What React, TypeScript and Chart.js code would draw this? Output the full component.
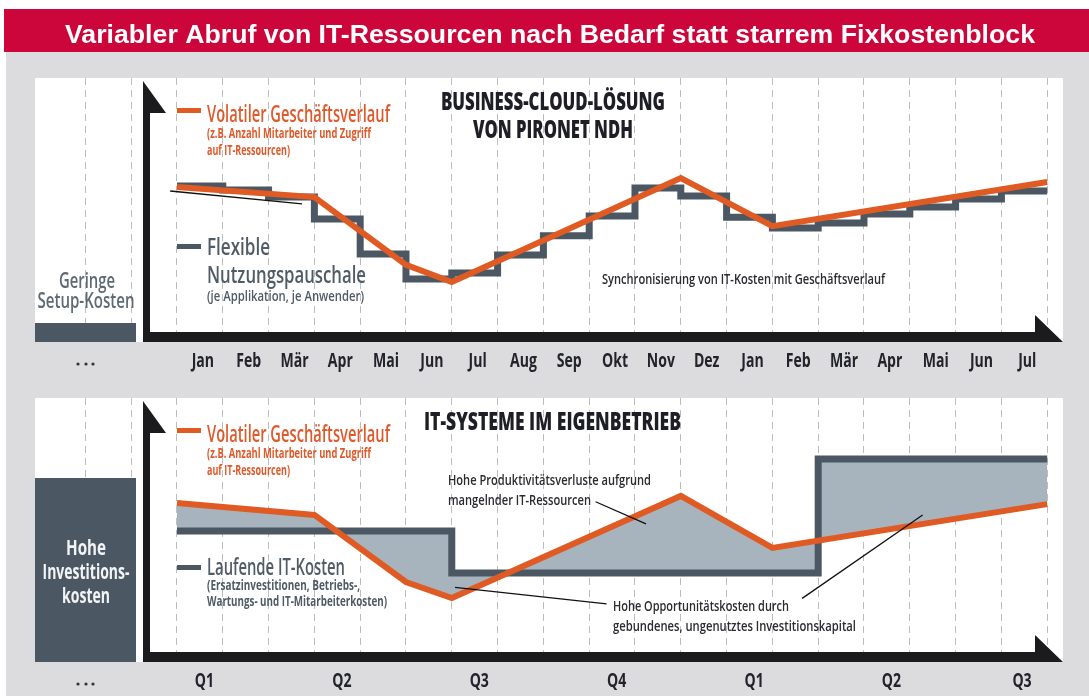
import React, { useEffect, useRef } from 'react';
import { Chart, registerables } from 'chart.js';

Chart.register(...registerables);

const W = 1089;
const H = 696;

// ---------------- data ----------------
const titleText = 'Variabler Abruf von IT-Ressourcen nach Bedarf statt starrem Fixkostenblock';
const monthLabels = ['Jan', 'Feb', 'Mär', 'Apr', 'Mai', 'Jun', 'Jul', 'Aug', 'Sep', 'Okt', 'Nov', 'Dez', 'Jan', 'Feb', 'Mär', 'Apr', 'Mai', 'Jun', 'Jul'];
const quarterLabels = ['Q1', 'Q2', 'Q3', 'Q4', 'Q1', 'Q2', 'Q3'];
const quarterStartMonth = [0, 3, 6, 9, 12, 15, 18];
const gridTicks = [-2, -1, 0, 1, 2, 3, 4, 5, 6, 7, 8, 9, 10, 11, 12, 13, 14, 15, 16, 17, 18, 19];

// Panel 1: Business-Cloud-Lösung
const cloudDemandMonth = [0, 3, 5, 6, 11, 13, 19];
const cloudDemand = [58.7, 54.9, 29.2, 22.7, 62.1, 43.9, 60.6];
const cloudFee = [59.1, 57.6, 54.9, 46.6, 33.3, 23.9, 26.1, 33.0, 40.2, 47.7, 58.3, 55.3, 47.3, 43.2, 45.1, 48.5, 51.1, 54.2, 57.2];
const cloudPointerX = [-0.15, 2.73];
const cloudPointerY = [57.2, 52.3];

// Panel 2: IT-Systeme im Eigenbetrieb
const ownDemandMonth = [0, 3, 5, 6, 11, 13, 19];
const ownDemand = [60.2, 55.7, 30.3, 24.2, 62.9, 43.2, 59.8];
const ownCost = [49.6, 49.6, 49.6, 49.6, 49.6, 49.6, 33.7, 33.7, 33.7, 33.7, 33.7, 33.7, 33.7, 33.7, 76.9, 76.9, 76.9, 76.9, 76.9];
const pointerLossX = [9.14, 10.24];
const pointerLossY = [60.7, 52.3];
const pointerOppAX = [6.07, 9.38];
const pointerOppAY = [28.3, 22.0];
const pointerOppBX = [13.65, 16.28];
const pointerOppBY = [24.1, 55.7];

// ---------------- styles ----------------
const ORANGE = '#e05a24';
const ORANGE_TXT = '#e0592a';
const SLATE = '#4b5762';
const SLATE_TXT = '#4f5b66';
const FILL = '#a8b4bd';
const PAGE = '#dcdcdf';
const RED = '#cc063a';
const INK = '#1e1e26';
const FONT = "'Open Sans', 'Noto Sans', sans-serif";

type TextOpt = {
  size: number;
  weight?: string | number;
  color: string;
  align?: 'left' | 'center';
  width?: number;
  sx?: number;
  family?: string;
};

function drawText(ctx: CanvasRenderingContext2D, s: string, x: number, y: number, o: TextOpt) {
  ctx.save();
  ctx.font = `${o.weight ?? 600} ${o.size}px ${o.family ?? FONT}`;
  ctx.fillStyle = o.color;
  ctx.textAlign = 'left';
  ctx.textBaseline = 'alphabetic';
  const w = ctx.measureText(s).width;
  const k = o.width ? o.width / w : o.sx ?? 0.8;
  const x0 = o.align === 'center' ? x - (w * k) / 2 : x;
  ctx.translate(x0, y);
  ctx.scale(k, 1);
  ctx.fillText(s, 0, 0);
  ctx.restore();
}

function drawAxes(ctx: CanvasRenderingContext2D, left: number, right: number, top: number, bottom: number) {
  ctx.save();
  ctx.fillStyle = '#1b1b1d';
  ctx.beginPath();
  ctx.moveTo(left, top + 3);
  ctx.lineTo(left + 23, top + 35);
  ctx.lineTo(left + 7, top + 35);
  ctx.lineTo(left + 7, bottom - 10);
  ctx.lineTo(right - 28, bottom - 10);
  ctx.lineTo(right - 28, bottom - 27);
  ctx.lineTo(right, bottom);
  ctx.lineTo(left, bottom);
  ctx.closePath();
  ctx.fill();
  ctx.restore();
}

function drawLegend(ctx: CanvasRenderingContext2D, dy: number) {
  ctx.fillStyle = ORANGE;
  ctx.fillRect(177, 108 + dy, 24, 5);
  drawText(ctx, 'Volatiler Geschäftsverlauf', 207, 122 + dy, { size: 23, weight: 600, color: ORANGE_TXT, width: 183 });
  drawText(ctx, '(z.B. Anzahl Mitarbeiter und Zugriff', 207, 138 + dy, { size: 14, weight: 700, color: ORANGE_TXT, width: 164 });
  drawText(ctx, 'auf IT-Ressourcen)', 207, 155 + dy, { size: 14, weight: 700, color: ORANGE_TXT, width: 83 });
}

function drawDots(ctx: CanvasRenderingContext2D, y: number) {
  ctx.save();
  ctx.fillStyle = '#333';
  [78, 86, 93].forEach((x) => {
    ctx.beginPath();
    ctx.arc(x, y, 1.6, 0, Math.PI * 2);
    ctx.fill();
  });
  ctx.restore();
}

const pts = (xs: number[], ys: number[]) => xs.map((x, i) => ({ x, y: ys[i] }));
const stepPts = (levels: number[]) => [
  ...levels.map((y, i) => ({ x: i, y })),
  { x: levels.length, y: levels[levels.length - 1] },
];

function baseOptions(top: number, bottom: number): any {
  return {
    responsive: false,
    animation: false,
    events: [],
    layout: { padding: { left: 35, right: W - 1063, top, bottom: H - bottom } },
    plugins: {
      legend: { display: false },
      tooltip: { enabled: false },
      filler: { drawTime: 'beforeDatasetsDraw' },
    },
    elements: { point: { radius: 0 }, line: { tension: 0 } },
    scales: {
      x: {
        type: 'linear',
        min: -3.1,
        max: 19.345,
        afterBuildTicks: (s: any) => {
          s.ticks = gridTicks.map((v) => ({ value: v }));
        },
        ticks: { display: false },
        grid: { color: '#bdbdbd', lineWidth: 1, drawTicks: false },
        border: { display: false, dash: [7, 5] },
      },
      y: { type: 'linear', min: 0, max: 100, display: false },
    },
  };
}

const lineDefaults = { pointRadius: 0, borderJoinStyle: 'miter', borderCapStyle: 'butt' };

export default function App() {
  const c1 = useRef<HTMLCanvasElement>(null);
  const c2 = useRef<HTMLCanvasElement>(null);

  useEffect(() => {
    const deco1 = {
      id: 'deco1',
      beforeDraw(chart: any) {
        const ctx: CanvasRenderingContext2D = chart.ctx;
        ctx.save();
        ctx.fillStyle = '#ffffff';
        ctx.fillRect(0, 0, W, H);
        ctx.fillStyle = PAGE;
        ctx.fillRect(6, 52, W - 6, H - 52);
        ctx.fillStyle = RED;
        ctx.fillRect(4, 9, W - 4, 43);
        ctx.restore();
        drawText(ctx, titleText, 65, 43, { size: 25, weight: 700, color: '#ffffff', width: 970, family: "'Liberation Sans', Arial, sans-serif" });
        const a = chart.chartArea;
        ctx.fillStyle = '#ffffff';
        ctx.fillRect(a.left, a.top, a.right - a.left, a.bottom - a.top);
      },
      afterDraw(chart: any) {
        const ctx: CanvasRenderingContext2D = chart.ctx;
        const a = chart.chartArea;
        const xs = chart.scales.x;
        ctx.fillStyle = SLATE;
        ctx.fillRect(a.left, 323, 101, a.bottom - 323);
        drawAxes(ctx, 143, a.right, a.top, a.bottom);
        drawText(ctx, 'Geringe', 87, 288, { size: 21, weight: 600, color: '#5f6b74', align: 'center', width: 56 });
        drawText(ctx, 'Setup-Kosten', 86, 308, { size: 21, weight: 600, color: '#5f6b74', align: 'center', width: 97 });
        drawText(ctx, 'BUSINESS-CLOUD-LÖSUNG', 441, 110, { size: 24, weight: 800, color: INK, width: 224 });
        drawText(ctx, 'VON PIRONET NDH', 473, 138, { size: 24, weight: 800, color: INK, width: 160 });
        drawLegend(ctx, 0);
        ctx.fillStyle = SLATE;
        ctx.fillRect(177, 244, 24, 5);
        drawText(ctx, 'Flexible', 207, 255, { size: 23, weight: 600, color: SLATE_TXT, width: 63 });
        drawText(ctx, 'Nutzungspauschale', 207, 283, { size: 23, weight: 600, color: SLATE_TXT, width: 159 });
        drawText(ctx, '(je Applikation, je Anwender)', 207, 301, { size: 15, weight: 600, color: SLATE_TXT, width: 157 });
        drawText(ctx, 'Synchronisierung von IT-Kosten mit Geschäftsverlauf', 602, 284, { size: 15, weight: 600, color: '#2a2a30', width: 283 });
        monthLabels.forEach((m, i) => {
          drawText(ctx, m, xs.getPixelForValue(i + 0.5) + 3, 367, { size: 19, weight: 700, color: '#23232b', align: 'center', sx: 0.74 });
        });
        drawDots(ctx, 364);
      },
    };

    const deco2 = {
      id: 'deco2',
      beforeDraw(chart: any) {
        const ctx: CanvasRenderingContext2D = chart.ctx;
        const a = chart.chartArea;
        ctx.fillStyle = '#ffffff';
        ctx.fillRect(a.left, a.top, a.right - a.left, a.bottom - a.top);
      },
      afterDraw(chart: any) {
        const ctx: CanvasRenderingContext2D = chart.ctx;
        const a = chart.chartArea;
        const xs = chart.scales.x;
        ctx.fillStyle = SLATE;
        ctx.fillRect(a.left, 478, 101, a.bottom - 478);
        drawAxes(ctx, 143, a.right, a.top, a.bottom);
        drawText(ctx, 'Hohe', 86, 555, { size: 21, weight: 700, color: '#f2f4f6', align: 'center', width: 40 });
        drawText(ctx, 'Investitions-', 86, 579, { size: 21, weight: 700, color: '#f2f4f6', align: 'center', width: 87 });
        drawText(ctx, 'kosten', 86, 603, { size: 21, weight: 700, color: '#f2f4f6', align: 'center', width: 48 });
        drawText(ctx, 'IT-SYSTEME IM EIGENBETRIEB', 424, 430, { size: 24, weight: 800, color: INK, width: 257 });
        drawLegend(ctx, 320);
        ctx.fillStyle = SLATE;
        ctx.fillRect(177, 565, 24, 5);
        drawText(ctx, 'Laufende IT-Kosten', 207, 575, { size: 23, weight: 600, color: SLATE_TXT, width: 138 });
        drawText(ctx, '(Ersatzinvestitionen, Betriebs-,', 207, 590, { size: 14, weight: 700, color: SLATE_TXT, width: 153 });
        drawText(ctx, 'Wartungs- und IT-Mitarbeiterkosten)', 207, 606, { size: 14, weight: 700, color: SLATE_TXT, width: 180 });
        drawText(ctx, 'Hohe Produktivitätsverluste aufgrund', 448, 485, { size: 15, weight: 600, color: '#2a2a30', width: 203 });
        drawText(ctx, 'mangelnder IT-Ressourcen', 448, 505, { size: 15, weight: 600, color: '#2a2a30', width: 143 });
        drawText(ctx, 'Hohe Opportunitätskosten durch', 613, 611, { size: 15, weight: 600, color: '#2a2a30', width: 176 });
        drawText(ctx, 'gebundenes, ungenutztes Investitionskapital', 613, 631, { size: 15, weight: 600, color: '#2a2a30', width: 243 });
        quarterLabels.forEach((q, i) => {
          const v = Math.min(quarterStartMonth[i] + 0.6, 18.45);
          drawText(ctx, q, xs.getPixelForValue(v), 687, { size: 19, weight: 700, color: '#23232b', align: 'center', sx: 0.74 });
        });
        drawDots(ctx, 684);
      },
    };

    const ch1 = new Chart(c1.current as HTMLCanvasElement, {
      type: 'line',
      data: {
        datasets: [
          { label: 'Flexible Nutzungspauschale', data: stepPts(cloudFee), stepped: 'before', borderColor: SLATE, borderWidth: 7, fill: false, order: 3, ...lineDefaults } as any,
          { label: 'Volatiler Geschäftsverlauf', data: pts(cloudDemandMonth, cloudDemand), borderColor: ORANGE, borderWidth: 6, fill: false, order: 2, ...lineDefaults } as any,
          { label: 'pointer', data: pts(cloudPointerX, cloudPointerY), borderColor: '#111111', borderWidth: 1.3, fill: false, order: 1, pointRadius: 0 } as any,
        ],
      },
      options: baseOptions(78, 342),
      plugins: [deco1],
    });

    const ch2 = new Chart(c2.current as HTMLCanvasElement, {
      type: 'line',
      data: {
        datasets: [
          { label: 'Laufende IT-Kosten', data: stepPts(ownCost), stepped: 'before', borderColor: SLATE, borderWidth: 7, fill: false, order: 3, ...lineDefaults } as any,
          { label: 'Volatiler Geschäftsverlauf', data: pts(ownDemandMonth, ownDemand), borderColor: ORANGE, backgroundColor: FILL, borderWidth: 6, fill: { target: 0 }, order: 2, ...lineDefaults } as any,
          { label: 'pointer1', data: pts(pointerLossX, pointerLossY), borderColor: '#111111', borderWidth: 1.3, fill: false, order: 1, pointRadius: 0 } as any,
          { label: 'pointer2', data: pts(pointerOppAX, pointerOppAY), borderColor: '#111111', borderWidth: 1.3, fill: false, order: 1, pointRadius: 0 } as any,
          { label: 'pointer3', data: pts(pointerOppBX, pointerOppBY), borderColor: '#111111', borderWidth: 1.3, fill: false, order: 1, pointRadius: 0 } as any,
        ],
      },
      options: baseOptions(398, 662),
      plugins: [deco2],
    });

    return () => {
      ch1.destroy();
      ch2.destroy();
    };
  }, []);

  return (
    <div style={{ position: 'absolute', left: 0, top: 0, width: W, height: H, overflow: 'hidden', background: '#ffffff' }}>
      <canvas ref={c1} width={W} height={H} style={{ position: 'absolute', left: 0, top: 0 }} />
      <canvas ref={c2} width={W} height={H} style={{ position: 'absolute', left: 0, top: 0 }} />
    </div>
  );
}
